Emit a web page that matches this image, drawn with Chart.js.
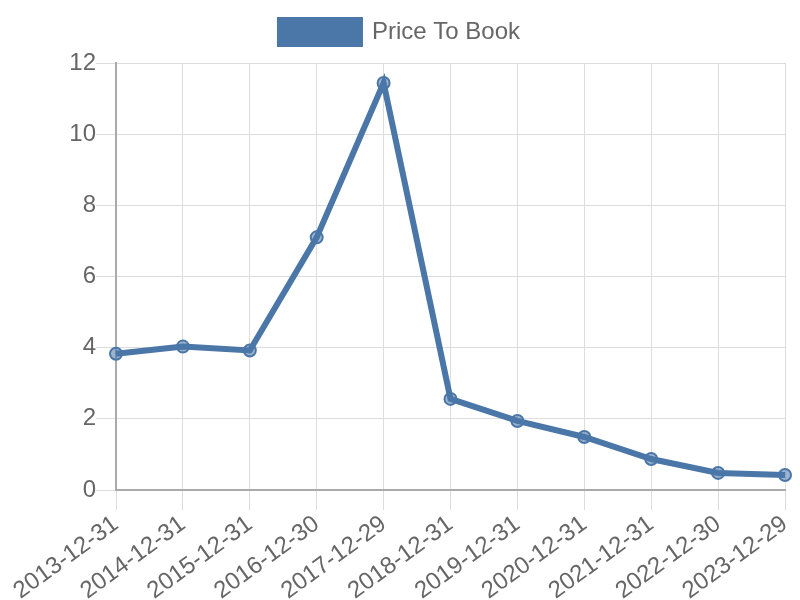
<!DOCTYPE html>
<html>
<head>
<meta charset="utf-8">
<script src="https://cdn.jsdelivr.net/npm/chart.js@4/dist/chart.umd.min.js"></script>
<style>
    html, body { margin: 0; padding: 0; background: #fff; }
    #wrap { width: 800px; height: 600px; }
</style>
</head>
<body>
<div id="wrap"><canvas id="chartPB"></canvas></div>
<script>
// datos
const fechas = ["2013-12-31", "2014-12-31", "2015-12-31", "2016-12-30", "2017-12-29",
                "2018-12-31", "2019-12-31", "2020-12-31", "2021-12-31", "2022-12-30", "2023-12-29"];
const precioValorLibro = [3.83, 4.03, 3.92, 7.10, 11.44, 2.56, 1.94, 1.49, 0.87, 0.48, 0.42];
const ticksY = [0, 2, 4, 6, 8, 10, 12];

Chart.defaults.font.family = "'Liberation Sans', Arial, sans-serif";
Chart.defaults.color = "#666";

// un poco más de aire debajo de la leyenda
const margenLeyenda = {
    id: "margenLeyenda",
    beforeInit(chart) {
        const fitOriginal = chart.legend.fit;
        chart.legend.fit = function () {
            fitOriginal.bind(chart.legend)();
            this.height += 9;
        };
    }
};

const ctx = document.getElementById("chartPB");
new Chart(ctx, {
    type: "line",
    data: {
        labels: fechas,
        datasets: [{
            label: "Price To Book",
            data: precioValorLibro,
            borderColor: "#4a76a8",
            backgroundColor: "#4a76a8",
            pointBackgroundColor: "rgba(74,118,168,0.55)",
            pointBorderColor: "#4a76a8",
            pointBorderWidth: 2,
            pointRadius: 6,
            borderWidth: 6,
            tension: 0,
            fill: false
        }]
    },
    options: {
        responsive: true,
        maintainAspectRatio: false,
        animation: false,
        layout: { padding: { left: 0, right: 0, top: 6, bottom: 0 } },
        plugins: {
            legend: {
                labels: {
                    boxWidth: 80,
                    boxHeight: 24,
                    padding: 14,
                    font: { size: 24 }
                }
            },
            tooltip: { enabled: false }
        },
        scales: {
            x: {
                grid: { color: "#ddd", tickLength: 20 },
                border: { color: "#aaa", width: 2 },
                ticks: { font: { size: 24 }, maxRotation: 36, minRotation: 36, padding: 0 },
                afterFit: (axis) => {
                    axis.height = 110;
                    axis.paddingRight = 15;
                }
            },
            y: {
                min: 0,
                max: 12,
                afterBuildTicks: (axis) => { axis.ticks = ticksY.map(v => ({ value: v })); },
                grid: { color: "#ddd", tickLength: 20 },
                border: { color: "#aaa", width: 2 },
                ticks: { font: { size: 24 }, padding: 0 },
                afterFit: (axis) => { axis.width = 116; }
            }
        }
    },
    plugins: [margenLeyenda]
});
</script>
</body>
</html>
